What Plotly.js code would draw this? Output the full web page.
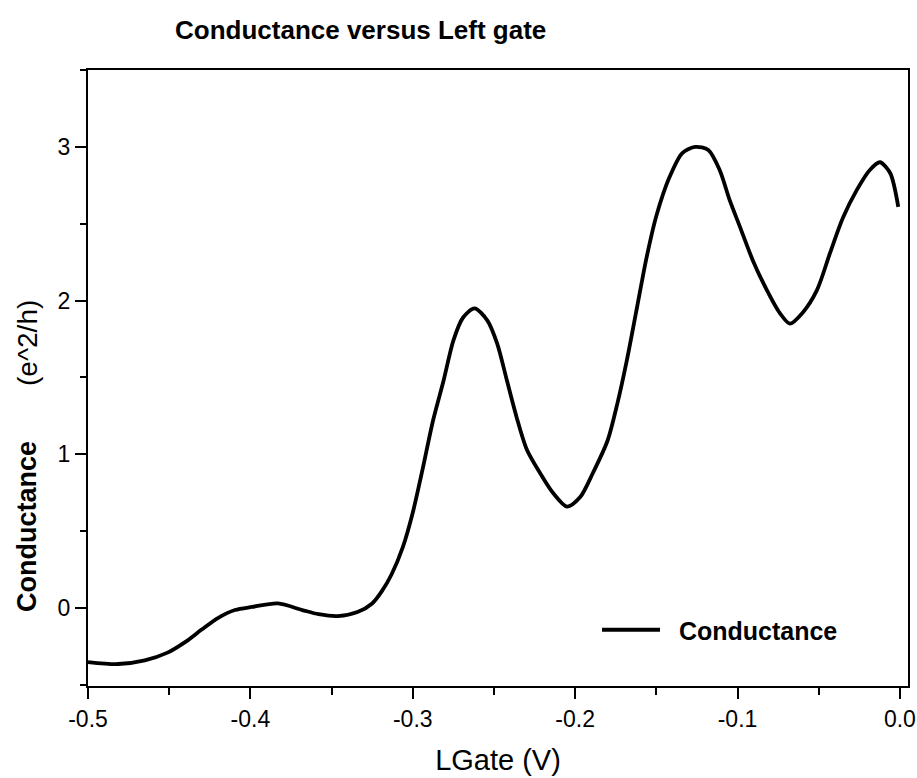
<!DOCTYPE html>
<html>
<head>
<meta charset="utf-8">
<script src="https://cdn.plot.ly/plotly-3.0.1.min.js"></script>
<style>html,body{margin:0;padding:0;background:#fff;}#chart{width:917px;height:778px;}</style>
</head>
<body>
<div id="chart"></div>
<script>
// Gate voltage (V)
var lgate = [-0.500, -0.4815, -0.465, -0.451, -0.440, -0.430, -0.420, -0.4095, -0.399, -0.383,
  -0.368, -0.358, -0.346, -0.334, -0.325, -0.319, -0.313, -0.306, -0.300, -0.294,
  -0.2875, -0.281, -0.275, -0.269, -0.262, -0.254, -0.248, -0.242, -0.236, -0.2297,
  -0.2217, -0.2137, -0.205, -0.197, -0.189, -0.180, -0.174, -0.168, -0.162, -0.156,
  -0.150, -0.142, -0.134, -0.126, -0.118, -0.111, -0.1047, -0.0985, -0.0905, -0.082,
  -0.074, -0.0677, -0.060, -0.051, -0.043, -0.035, -0.0265, -0.0185, -0.0123, -0.006, -0.001];
// Conductance (e^2/h)
var conductance = [-0.351, -0.364, -0.34, -0.29, -0.22, -0.14, -0.065, -0.013, 0.007, 0.03,
  -0.013, -0.04, -0.052, -0.026, 0.03, 0.11, 0.22, 0.40, 0.62, 0.90,
  1.22, 1.48, 1.74, 1.89, 1.95, 1.87, 1.72, 1.48, 1.24, 1.03,
  0.88, 0.75, 0.66, 0.72, 0.88, 1.09, 1.33, 1.62, 1.95, 2.28,
  2.55, 2.80, 2.96, 3.00, 2.98, 2.85, 2.65, 2.48, 2.26, 2.07,
  1.92, 1.85, 1.92, 2.07, 2.31, 2.54, 2.72, 2.85, 2.90, 2.83, 2.61];
// Tick labels
var xTickVals = [-0.5, -0.4, -0.3, -0.2, -0.1, 0.0];
var xTickText = ['-0.5', '-0.4', '-0.3', '-0.2', '-0.1', '0.0'];
var yTickVals = [0, 1, 2, 3];
var yTickText = ['0', '1', '2', '3'];
var seriesName = 'Conductance';
var chartTitle = 'Conductance versus Left gate';
var xTitle = 'LGate (V)';
var yTitleMain = 'Conductance';
var yTitleUnit = '(e^2/h)';

var FONT = 'Liberation Sans, Arial, sans-serif';

var trace = {
  x: lgate, y: conductance, type: 'scatter', mode: 'lines',
  name: '\u00A0\u00A0' + seriesName,
  line: {color: '#000', width: 3.8, shape: 'spline', smoothing: 0.8}
};

var axisCommon = {
  showgrid: false, zeroline: false, showline: true, linecolor: '#000', linewidth: 2,
  mirror: true, ticks: 'outside', ticklen: 11, tickwidth: 2, tickcolor: '#000',
  tickfont: {family: FONT, size: 23, color: '#000'}
};

var layout = {
  width: 917, height: 778,
  margin: {l: 88, r: 9, t: 70, b: 92},
  paper_bgcolor: '#fff', plot_bgcolor: '#fff',
  font: {family: FONT, color: '#000'},
  title: {text: chartTitle, font: {family: FONT, size: 26, color: '#000', weight: 'bold'},
    xref: 'container', yref: 'container', x: 175/917, xanchor: 'left', y: 1 - 30/778, yanchor: 'middle'},
  xaxis: Object.assign({}, axisCommon, {
    range: [-0.5, 0.005], tickmode: 'array', tickvals: xTickVals, ticktext: xTickText,
    minor: {ticks: 'outside', ticklen: 7, tickwidth: 2, tickcolor: '#000', dtick: 0.05, tick0: -0.5},
    title: {text: xTitle, font: {family: FONT, size: 29, color: '#000'}, standoff: 19}
  }),
  yaxis: Object.assign({}, axisCommon, {
    range: [-0.507, 3.5], tickmode: 'array', tickvals: yTickVals, ticktext: yTickText,
    minor: {ticks: 'outside', ticklen: 6, tickwidth: 2, tickcolor: '#000', dtick: 0.5, tick0: 0},
    title: {text: ''}
  }),
  showlegend: true,
  legend: {x: (597 - 88) / 820, y: (686 - 630) / 616, xanchor: 'left', yanchor: 'middle',
    bgcolor: 'rgba(0,0,0,0)', borderwidth: 0, itemwidth: 58,
    font: {family: FONT, size: 25, color: '#000', weight: 'bold'}},
  annotations: [
    {text: yTitleMain, xref: 'paper', yref: 'paper', x: (27 - 88) / 820, y: (686 - 527) / 616,
     textangle: -90, showarrow: false, xanchor: 'center', yanchor: 'middle',
     font: {family: FONT, size: 27, color: '#000', weight: 'bold'}},
    {text: yTitleUnit, xref: 'paper', yref: 'paper', x: (27 - 88) / 820, y: (686 - 343) / 616,
     textangle: -90, showarrow: false, xanchor: 'center', yanchor: 'middle',
     font: {family: FONT, size: 28, color: '#000'}}
  ]
};

Plotly.newPlot('chart', [trace], layout, {displayModeBar: false, staticPlot: true});
</script>
</body>
</html>
